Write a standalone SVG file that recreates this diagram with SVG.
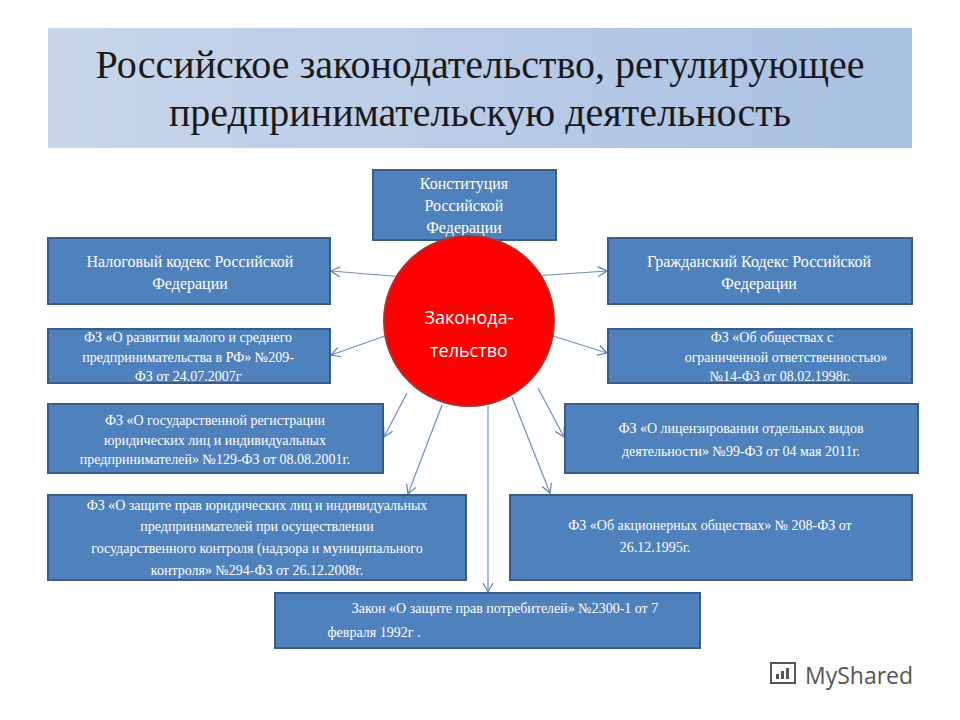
<svg xmlns="http://www.w3.org/2000/svg" width="960" height="720" viewBox="0 0 960 720">
<defs>
<linearGradient id="tg" x1="0" y1="0" x2="1" y2="0"><stop offset="0" stop-color="#c9d6ea"/><stop offset="1" stop-color="#a9c0e3"/></linearGradient>
<marker id="ar" markerWidth="12" markerHeight="12" refX="10" refY="6" orient="auto" markerUnits="userSpaceOnUse"><path d="M1,1 L10,6 L1,11" fill="none" stroke="#5b7fb0" stroke-width="1.2"/></marker>
<style>
.b{fill:#4f81bd;stroke:#385d8a;stroke-width:2}
.t{font-family:'Liberation Serif','Times New Roman','DejaVu Serif',serif;fill:#fff;text-anchor:middle;font-size:14px}
.L{font-size:16px}
.h{font-family:'Liberation Serif','Times New Roman','DejaVu Serif',serif;font-size:40px;text-anchor:middle;fill:#1a1a1a}
.c{stroke:#6f8fbf;stroke-width:1.2;fill:none;marker-end:url(#ar)}
</style>
</defs>
<rect width="960" height="720" fill="#fff"/>
<g id="title"><rect x="48" y="28" width="864" height="120" fill="url(#tg)"/>
<text class="h" x="480" y="78">Российское законодательство, регулирующее</text>
<text class="h" x="480" y="126">предпринимательскую деятельность</text></g>
<g id="connectors">
<line class="c" x1="469" y1="252" x2="469" y2="241"/>
<line class="c" x1="404" y1="277" x2="331" y2="271"/>
<line class="c" x1="534" y1="276" x2="607" y2="271"/>
<line class="c" x1="385" y1="336" x2="331" y2="355"/>
<line class="c" x1="553" y1="336" x2="607" y2="353"/>
<line class="c" x1="407" y1="393" x2="384" y2="437"/>
<line class="c" x1="538" y1="388" x2="564" y2="437"/>
<line class="c" x1="442" y1="405" x2="408" y2="494"/>
<line class="c" x1="512" y1="397" x2="550" y2="493"/>
<line class="c" x1="488" y1="406" x2="488" y2="592"/>
</g>
<g id="const"><rect class="b" x="373" y="170" width="183" height="70"/><text class="t L" x="464" y="189">Конституция</text><text class="t L" x="464" y="211">Российской</text><text class="t L" x="464" y="233">Федерации</text></g>
<g id="center"><circle cx="469" cy="321" r="85" fill="#ff0000" stroke="#b03030" stroke-width="2"/><text x="469" y="324" font-family="'Open Sans',sans-serif" font-size="18" fill="#fff" text-anchor="middle">Законода-</text><text x="469" y="357" font-family="'Open Sans',sans-serif" font-size="18" fill="#fff" text-anchor="middle">тельство</text></g>
<g id="tax"><rect class="b" x="48" y="238" width="282" height="66"/><text class="t L" x="190" y="267">Налоговый кодекс Российской</text><text class="t L" x="190" y="289">Федерации</text></g>
<g id="civil"><rect class="b" x="608" y="238" width="304" height="66"/><text class="t L" x="759" y="267">Гражданский Кодекс Российской</text><text class="t L" x="759" y="289">Федерации</text></g>
<g id="fz209"><rect class="b" x="48" y="329" width="282" height="54"/><text class="t" x="188" y="342">ФЗ «О развитии малого и среднего</text><text class="t" x="188" y="362">предпринимательства в РФ» №209-</text><text class="t" x="188" y="381">ФЗ от 24.07.2007г</text></g>
<g id="fz14"><rect class="b" x="608" y="329" width="304" height="54"/><text class="t" x="772" y="342">ФЗ «Об обществах с</text><text class="t" x="786" y="362">ограниченной ответственностью»</text><text class="t" x="780" y="381">№14-ФЗ от 08.02.1998г.</text></g>
<g id="fz129"><rect class="b" x="48" y="404" width="335" height="69"/><text class="t" x="215" y="425">ФЗ «О государственной  регистрации</text><text class="t" x="215" y="445">юридических лиц и индивидуальных</text><text class="t" x="215" y="464">предпринимателей» №129-ФЗ от 08.08.2001г.</text></g>
<g id="fz99"><rect class="b" x="565" y="404" width="353" height="69"/><text class="t" x="741" y="433">ФЗ «О лицензировании отдельных видов</text><text class="t" x="741" y="456">деятельности»  №99-ФЗ от 04 мая 2011г.</text></g>
<g id="fz294"><rect class="b" x="48" y="495" width="418" height="85"/><text class="t" x="257" y="510">ФЗ «О защите прав юридических лиц и индивидуальных</text><text class="t" x="257" y="531">предпринимателей   при осуществлении</text><text class="t" x="257" y="553">государственного контроля  (надзора и муниципального</text><text class="t" x="257" y="575">контроля» №294-ФЗ от 26.12.2008г.</text></g>
<g id="fz208"><rect class="b" x="510" y="495" width="402" height="85"/><text class="t" x="710" y="530">ФЗ «Об акционерных обществах» № 208-ФЗ от</text><text class="t" x="655" y="552">26.12.1995г.</text></g>
<g id="consumer"><rect class="b" x="275" y="593" width="425" height="55"/><text class="t" x="505" y="613">Закон «О защите прав потребителей»  №2300-1  от 7</text><text class="t" x="374" y="637">февраля 1992г .</text></g>
<g id="watermark"><rect x="771" y="663" width="24" height="20" fill="none" stroke="#555" stroke-width="2"/><rect x="776" y="674" width="3" height="5" fill="#555"/><rect x="781" y="671" width="3" height="8" fill="#555"/><rect x="786" y="668" width="3" height="11" fill="#555"/><text x="805" y="684" font-family="'Open Sans',sans-serif" font-size="23" fill="#555">MyShared</text></g>
</svg>
